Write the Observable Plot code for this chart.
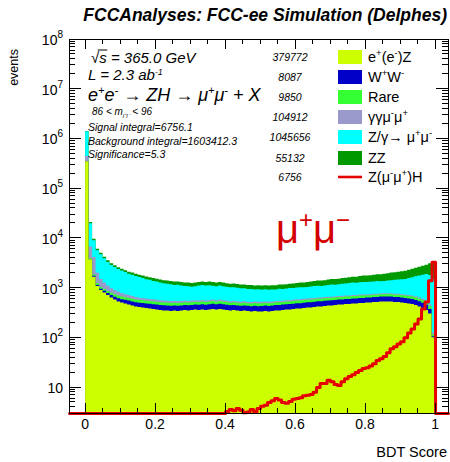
<!DOCTYPE html>
<html><head><meta charset="utf-8">
<script src="https://cdn.jsdelivr.net/npm/d3@7"></script>
<script src="https://cdn.jsdelivr.net/npm/@observablehq/plot@0.6"></script>
<style>
html,body{margin:0;padding:0;background:#fff}
svg{display:block}
</style>
</head><body><div id="chart"></div>
<script>
// ---------- data (bins of width 0.01 on BDT score 0..1) ----------
const binWidth = 0.01;
const eeZ = [347000, 3700, 1660, 1070, 890, 794, 708, 631, 575, 525,
 500, 479, 457, 437, 417, 407, 398, 389, 380, 372,
 363, 355, 347, 347, 339, 347, 339, 347, 355, 347,
 355, 363, 355, 363, 355, 363, 372, 363, 372, 363,
 355, 347, 355, 347, 339, 347, 339, 331, 339, 331,
 331, 339, 331, 339, 347, 347, 355, 363, 363, 372,
 380, 380, 389, 398, 398, 407, 417, 417, 427, 437,
 437, 447, 457, 457, 468, 468, 479, 479, 490, 490,
 501, 501, 513, 513, 525, 525, 525, 525, 513, 513,
 501, 490, 479, 468, 447, 417, 389, 355, 302, 100];
const WW = [300, 60, 60, 60, 60, 65, 70, 75, 80, 85,
 85, 88, 90, 90, 90, 90, 90, 90, 92, 92,
 92, 92, 92, 90, 90, 90, 90, 90, 92, 92,
 92, 95, 95, 98, 95, 98, 100, 98, 102, 98,
 95, 92, 92, 90, 90, 90, 90, 90, 92, 92,
 95, 95, 95, 95, 98, 98, 100, 100, 102, 102,
 105, 105, 108, 108, 110, 110, 112, 112, 115, 115,
 118, 118, 120, 120, 122, 122, 125, 125, 128, 128,
 130, 130, 132, 132, 135, 135, 135, 135, 135, 132,
 130, 128, 125, 122, 118, 112, 105, 95, 70, 5];
const Rare = [3000, 150, 120, 100, 80, 80, 80, 80, 80, 80,
 80, 70, 70, 68, 66, 65, 65, 64, 64, 63,
 63, 62, 62, 62, 62, 61, 61, 61, 60, 60,
 60, 60, 62, 62, 60, 62, 62, 60, 62, 60,
 60, 58, 58, 58, 57, 57, 57, 57, 57, 58,
 58, 58, 58, 58, 60, 60, 60, 60, 62, 62,
 62, 63, 63, 64, 64, 65, 65, 66, 66, 67,
 67, 68, 68, 69, 69, 70, 70, 70, 71, 71,
 72, 72, 72, 73, 73, 73, 73, 73, 72, 72,
 72, 71, 70, 69, 68, 66, 64, 62, 55, 10];
const aaMuMu = [95000, 2800, 2300, 750, 460, 320, 240, 180, 150, 130,
 110, 100, 90, 80, 70, 65, 60, 58, 56, 54,
 52, 50, 48, 47, 46, 45, 44, 42, 41, 40,
 40, 40, 40, 40, 40, 40, 40, 38, 40, 38,
 38, 36, 36, 36, 35, 35, 35, 35, 35, 35,
 35, 35, 35, 35, 35, 35, 35, 35, 35, 35,
 35, 35, 35, 35, 35, 35, 35, 35, 35, 35,
 35, 35, 35, 35, 35, 35, 35, 35, 35, 35,
 35, 35, 35, 35, 35, 35, 35, 35, 35, 35,
 35, 35, 35, 35, 35, 35, 35, 35, 35, 10];
const ZgMuMu = [955000, 12990, 4810, 3630, 3180, 2620, 2190, 1880, 1715, 1540,
 1425, 1310, 1190, 1135, 1070, 1000, 940, 870, 840, 780,
 750, 705, 675, 650, 630, 590, 600, 565, 525, 530,
 495, 510, 545, 560, 545, 555, 520, 510, 520, 510,
 490, 480, 475, 460, 445, 435, 415, 418, 388, 412,
 390, 398, 385, 392, 380, 405, 390, 400, 418, 405,
 418, 437, 415, 425, 443, 453, 461, 450, 457, 476,
 493, 472, 480, 509, 516, 535, 551, 541, 556, 576,
 552, 572, 578, 597, 572, 592, 622, 642, 675, 698,
 732, 766, 841, 926, 1012, 1120, 1217, 1333, 1328, 1385];
const ZZ = [12000, 1200, 600, 420, 340, 290, 260, 240, 220, 210,
 200, 195, 190, 190, 190, 190, 190, 190, 190, 190,
 190, 185, 185, 185, 185, 185, 185, 185, 185, 190,
 190, 190, 195, 195, 195, 200, 195, 190, 195, 190,
 190, 185, 185, 185, 185, 185, 185, 190, 190, 190,
 190, 195, 195, 200, 200, 205, 210, 215, 220, 225,
 230, 240, 250, 260, 270, 280, 290, 300, 310, 320,
 330, 340, 350, 360, 375, 390, 400, 410, 420, 440,
 450, 470, 490, 510, 520, 540, 560, 590, 610, 640,
 670, 700, 740, 780, 830, 880, 940, 1000, 1300, 1800];
const signalZH = [0, 0, 0, 0, 0, 0, 0, 0, 0, 0,
 0, 0, 0, 0, 0, 0, 0, 0, 0, 0,
 0, 0, 0, 0, 0, 0, 0, 0, 0, 0,
 0, 0, 0, 0, 0, 0, 0, 0, 0, 0,
 3.3, 3.6, 3.4, 3.8, 3.5, 3.1, 3.2, 3.6, 3.3, 3.8,
 4.2, 4.4, 5.0, 5.4, 6.0, 5.6, 5.0, 4.8, 5.2, 5.8,
 6.0, 6.2, 6.8, 7.0, 7.2, 8.0, 10, 12, 12, 14,
 13, 11.5, 11, 13, 15, 16.6, 18, 20, 22, 24,
 25, 27, 30, 35, 38, 42, 50, 60, 66, 75,
 83, 100, 125, 150, 190, 240, 380, 525, 1400, 3300];

const layerColors = ["#ccff00", "#0000c8", "#33ff33", "#9999cc", "#00ffff", "#009a00"];
const layerYields = ["379772", "8087", "9850", "104912", "1045656", "55132"];
const signalYield = "6756";
const xTicks = [0, 0.2, 0.4, 0.6, 0.8, 1];
const xTickLabels = ["0", "0.2", "0.4", "0.6", "0.8", "1"];
const yTickExponents = [1, 2, 3, 4, 5, 6, 7, 8];

// ---------- scales ----------
const xDomain = [-0.046, 1.037];
const yDomain = [3, 1e8];
const layers = [eeZ, WW, Rare, aaMuMu, ZgMuMu, ZZ];
const nb = eeZ.length;

// cumulative stack (THStack-like)
let run = new Array(nb).fill(0);
const cumulative = layers.map(vals => { run = run.map((c, i) => c + vals[i]); return run.slice(); });
function stepPoints(vals) {
  const pts = vals.map((v, i) => ({x: i * binWidth, v}));
  pts.push({x: nb * binWidth, v: vals[nb - 1]});
  return pts;
}
const areaMarks = cumulative.map((c, k) => ({c, k})).reverse().map(({c, k}) =>
  Plot.area(stepPoints(c), {x1: "x", y1: () => 1, y2: "v", curve: "step-after",
    fill: layerColors[k], clip: true}));

const sigPts = [{x: xDomain[0], v: yDomain[0]}];
signalZH.forEach((s, i) => sigPts.push({x: i * binWidth, v: Math.max(s, yDomain[0])}));
sigPts.push({x: nb * binWidth, v: yDomain[0]});
sigPts.push({x: xDomain[1], v: yDomain[0]});

const plot = Plot.plot({
  width: 450, height: 462,
  marginLeft: 69, marginRight: 2, marginTop: 39, marginBottom: 49,
  x: {domain: xDomain, axis: null},
  y: {type: "log", domain: yDomain, axis: null},
  style: {background: "#fff", fontFamily: "'Liberation Sans', Arial, Helvetica, sans-serif"},
  marks: [
    ...areaMarks,
    Plot.line(sigPts, {x: "x", y: "v", curve: "step-after", stroke: "#e60000", strokeWidth: 3}),
    Plot.frame({stroke: "#000", strokeWidth: 1})
  ]
});
document.getElementById("chart").appendChild(plot);

// ---------- ROOT-like axes and texts ----------
const svg = d3.select(plot);
const X = v => plot.scale("x").apply(v);
const Y = v => plot.scale("y").apply(v);
const L = X(xDomain[0]), R = X(xDomain[1]), T = Y(yDomain[1]), B = Y(yDomain[0]);
const FONT = "'Liberation Sans', Arial, Helvetica, sans-serif";

const tg = svg.append("g").attr("stroke", "#000").attr("stroke-width", 1).attr("shape-rendering", "crispEdges");
const xMinor = d3.range(1, 21).map(i => i * 0.05).filter(v => !xTicks.some(t => Math.abs(t - v) < 1e-9));
function xt(v, len) {
  tg.append("line").attr("x1", X(v)).attr("x2", X(v)).attr("y1", B).attr("y2", B - len);
  tg.append("line").attr("x1", X(v)).attr("x2", X(v)).attr("y1", T).attr("y2", T + len);
}
xTicks.forEach(v => xt(v, 10));
xMinor.forEach(v => xt(v, 5));
function yt(v, len) {
  tg.append("line").attr("x1", L).attr("x2", L + len).attr("y1", Y(v)).attr("y2", Y(v));
  tg.append("line").attr("x1", R).attr("x2", R - len).attr("y1", Y(v)).attr("y2", Y(v));
}
yTickExponents.forEach(e => yt(Math.pow(10, e), 12));
for (let e = 0; e < 8; e++) for (let m = 2; m <= 9; m++) {
  const v = m * Math.pow(10, e);
  if (v >= yDomain[0] && v <= yDomain[1]) yt(v, 6);
}

const txt = svg.append("g").attr("font-family", FONT).attr("fill", "#000");
function rich(x, y, parts, o) {
  const t = txt.append("text").attr("x", x).attr("y", y)
    .attr("font-size", o.size).attr("text-anchor", o.anchor || "start");
  if (o.italic) t.attr("font-style", "italic");
  if (o.bold) t.attr("font-weight", "bold");
  if (o.fill) t.attr("fill", o.fill);
  let off = 0;
  for (const [s, kind] of parts) {
    const target = kind === "sup" ? -(o.supShift || o.size * 0.42) : kind === "sub" ? (o.subShift || o.size * 0.3) : 0;
    const ts = t.append("tspan").attr("dy", target - off).text(s);
    if (kind) ts.attr("font-size", o.small || o.size * 0.65);
    off = target;
  }
  return t;
}

// x tick labels
xTicks.forEach((v, i) => txt.append("text").attr("x", X(v)).attr("y", B + 16)
  .attr("text-anchor", "middle").attr("font-size", 14).text(xTickLabels[i]));
// y tick labels
yTickExponents.forEach(e => {
  const parts = e === 1 ? [["10"]] : [["10"], [String(e), "sup"]];
  rich(63, Y(Math.pow(10, e)) + 6, parts, {size: 14, anchor: "end", small: 10, supShift: 7});
});
// axis titles
txt.append("text").attr("x", 447).attr("y", 457).attr("text-anchor", "end")
  .attr("font-size", 14.5).text("BDT Score");
txt.append("text").attr("transform", "translate(18,49) rotate(-90)").attr("text-anchor", "end")
  .attr("font-size", 12.5).text("events");
// title
txt.append("text").attr("x", 447).attr("y", 21).attr("text-anchor", "end")
  .attr("font-size", 17.5).attr("font-weight", "bold").attr("font-style", "italic")
  .text("FCCAnalyses: FCC-ee Simulation (Delphes)");

// info block
const sq = rich(91, 63, [["√"], ["s = 365.0 GeV"]], {size: 15, italic: true});
{
  const node = sq.node();
  const x0 = node.getEndPositionOfChar(0).x - 1.5;
  const x1 = node.getEndPositionOfChar(1).x + 0.5;
  txt.append("line").attr("x1", x0).attr("x2", x1).attr("y1", 63 - 13).attr("y2", 63 - 13)
    .attr("stroke", "#000").attr("stroke-width", 1);
}
rich(88, 80, [["L = 2.3 ab"], ["-1", "sup"]], {size: 15, italic: true, small: 9, supShift: 5});
rich(88, 101, [["e"], ["+", "sup"], ["e"], ["-", "sup"], [" → ZH → μ"], ["+", "sup"], ["μ"], ["-", "sup"], [" + X"]],
  {size: 18, italic: true, small: 11, supShift: 7});
rich(92, 115, [["86 < m"], ["l⁺l⁻", "sub"], [" < 96"]], {size: 10, italic: true, small: 6, subShift: 3});
rich(88, 131, [["Signal integral=6756.1"]], {size: 10.5, italic: true});
rich(88, 145, [["Background integral=1603412.3"]], {size: 10.5, italic: true});
rich(88, 158, [["Significance=5.3"]], {size: 10.5, italic: true});

// legend
const rowsY = [57, 77, 97, 117, 137, 158, 177];
const legParts = [
  [["e"], ["+", "sup"], ["(e"], ["-", "sup"], [")Z"]],
  [["W"], ["+", "sup"], ["W"], ["-", "sup"]],
  [["Rare"]],
  [["γγμ"], ["-", "sup"], ["μ"], ["+", "sup"]],
  [["Z/γ→ μ"], ["+", "sup"], ["μ"], ["-", "sup"]],
  [["ZZ"]],
  [["Z(μ"], ["-", "sup"], ["μ"], ["+", "sup"], [")H"]]
];
const yieldsAll = [...layerYields, signalYield];
rowsY.forEach((yy, i) => {
  txt.append("text").attr("x", 290).attr("y", yy + 4).attr("font-size", 10.5)
    .attr("font-style", "italic").text(yieldsAll[i]);
  if (i < 6) {
    svg.append("rect").attr("x", 338).attr("y", yy - 7).attr("width", 24).attr("height", 14)
      .attr("fill", layerColors[i]);
  } else {
    svg.append("line").attr("x1", 338).attr("x2", 362).attr("y1", yy).attr("y2", yy)
      .attr("stroke", "#e60000").attr("stroke-width", 2.6);
  }
  rich(368, yy + 5, legParts[i], {size: 14.5, small: 9.5, supShift: 6});
});

// big channel label
rich(276, 243, [["μ"], ["+", "sup"], ["μ"], ["−", "sup"]],
  {size: 40, small: 24, supShift: 15, fill: "#d40000"});
</script>
</body></html>
